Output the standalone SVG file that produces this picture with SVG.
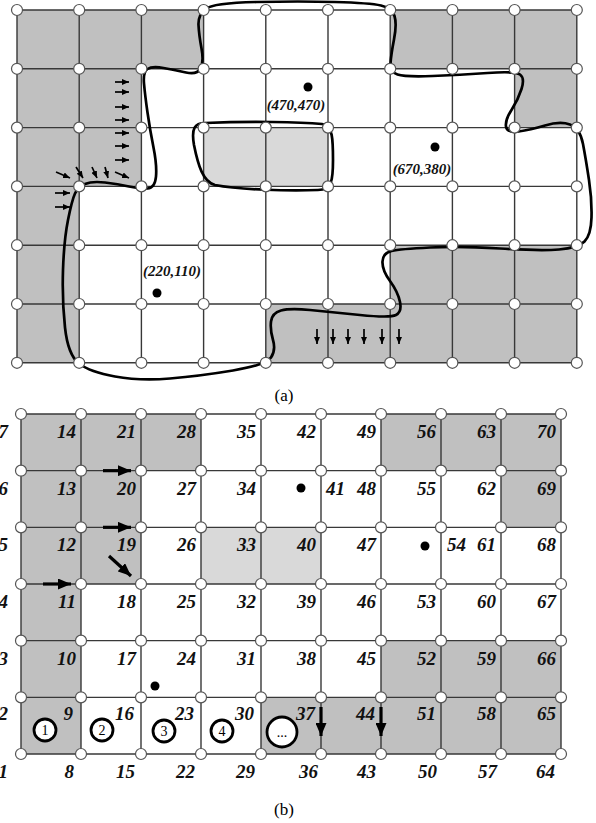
<svg xmlns="http://www.w3.org/2000/svg" xmlns:xlink="http://www.w3.org/1999/xlink" width="596" height="823" viewBox="0 0 596 823">
<style>
.g{fill:none;stroke:#383838;stroke-width:1.4}
.nd{fill:#fff;stroke:#555;stroke-width:1.2}
.dk{fill:#c0c0c0}
.lt{fill:#d9d9d9}
.lb{font-family:"Liberation Serif",serif;font-weight:bold;font-style:italic;font-size:19px;text-anchor:end;fill:#111}
.co{font-family:"Liberation Serif",serif;font-weight:bold;font-style:italic;font-size:15px;text-anchor:middle;fill:#111}
.cap{font-family:"Liberation Serif",serif;font-size:17px;text-anchor:middle;fill:#000}
.cn{font-family:"Liberation Serif",serif;font-size:14px;text-anchor:middle;fill:#000}
.crv{fill:none;stroke:#000;stroke-width:2.7}
.sa{stroke:#000;stroke-width:1.7;marker-end:url(#ms)}
.ba{stroke:#000;stroke-width:3.2;marker-end:url(#mb)}
.ring{fill:#fff;stroke:#000;stroke-width:2.8}
.dot{fill:#000}
</style>
<defs>
<marker id="ms" markerUnits="userSpaceOnUse" markerWidth="7" markerHeight="6" refX="7" refY="3" orient="auto"><path d="M0 0L7 3L0 6z" fill="#000"/></marker>
<marker id="mb" markerUnits="userSpaceOnUse" markerWidth="13" markerHeight="11" refX="13" refY="5.5" orient="auto"><path d="M0 0L13 5.5L0 11z" fill="#000"/></marker>
</defs>
<rect width="596" height="823" fill="#fff"/>

<!-- ===== (a) ===== -->
<g id="a-cells">
<rect class="dk" x="17" y="10" width="186.6" height="58.8"/>
<rect class="dk" x="390.2" y="10" width="186.6" height="58.8"/>
<rect class="dk" x="17" y="68.8" width="124.4" height="58.8"/>
<rect class="dk" x="514.6" y="68.8" width="62.2" height="58.8"/>
<rect class="dk" x="17" y="127.6" width="124.4" height="58.8"/>
<rect class="lt" x="203.6" y="127.6" width="124.4" height="58.8"/>
<rect class="dk" x="17" y="186.4" width="62.2" height="176.4"/>
<rect class="dk" x="390.2" y="245.2" width="186.6" height="58.8"/>
<rect class="dk" x="265.8" y="304" width="311" height="58.8"/>
</g>
<g id="a-grid">
<path class="g" d="M17 10V362.8M79.2 10V362.8M141.4 10V362.8M203.6 10V362.8M265.8 10V362.8M328 10V362.8M390.2 10V362.8M452.4 10V362.8M514.6 10V362.8M576.8 10V362.8M17 10H576.8M17 68.8H576.8M17 127.6H576.8M17 186.4H576.8M17 245.2H576.8M17 304H576.8M17 362.8H576.8"/>
</g>
<g id="a-curves">
<path class="crv" d="M256.5 2Q300 1 335 2Q370 3 381 5.5Q392 8 394.5 16Q397 24 394 39.5Q391 55 390.5 63.5Q390 72 397.5 74.5Q405 77 432.5 76Q460 75 487.5 73Q515 71 520 74.5Q525 78 521.5 89Q518 100 511.5 110Q505 120 506 126.5Q507 133 518.5 131.5Q530 130 545 125.5Q560 121 570 124.5Q580 128 583 144Q586 160 589 180Q592 200 591.5 217.5Q591 235 584.5 241.5Q578 248 559 249.5Q540 251 500 248.5Q460 246 430 247.5Q400 249 391.5 251Q383 253 382.5 261.5Q382 270 390 281Q398 292 400 302Q402 312 396 315Q390 318 360 315Q330 312 310 310Q290 308 281 310.5Q272 313 271 321.5Q270 330 273 340Q276 350 271 357.5Q266 365 233 370.5Q200 376 170 378.5Q140 381 115 376.5Q90 372 79 363.5Q68 355 65 327.5Q62 300 63 270Q64 240 68 220Q72 200 75 193.5Q78 187 85 184Q92 181 105 182.5Q118 184 129 186.5Q140 189 147.5 188.5Q155 188 156 176.5Q157 165 153.5 147.5Q150 130 147.5 112.5Q145 95 144 83.5Q143 72 147.5 69Q152 66 163.5 68Q175 70 186 72.5Q197 75 200.5 68.5Q204 62 201.5 48.5Q199 35 198.5 25Q198 15 205.5 9Q213 3 256.5 2Z"/>
<path class="crv" d="M205 123C250 121 300 122 322 124C333 125 333 140 333 160C333 180 332 190 318 190C290 191 240 190 215 185C203 182 198 165 194 145C191 128 195 123 205 123Z"/>
</g>
<g id="a-nodes">
<circle class="nd" cx="17" cy="10" r="5.5"/><circle class="nd" cx="79.2" cy="10" r="5.5"/><circle class="nd" cx="141.4" cy="10" r="5.5"/><circle class="nd" cx="203.6" cy="10" r="5.5"/><circle class="nd" cx="265.8" cy="10" r="5.5"/><circle class="nd" cx="328" cy="10" r="5.5"/><circle class="nd" cx="390.2" cy="10" r="5.5"/><circle class="nd" cx="452.4" cy="10" r="5.5"/><circle class="nd" cx="514.6" cy="10" r="5.5"/><circle class="nd" cx="576.8" cy="10" r="5.5"/>
<circle class="nd" cx="17" cy="68.8" r="5.5"/><circle class="nd" cx="79.2" cy="68.8" r="5.5"/><circle class="nd" cx="141.4" cy="68.8" r="5.5"/><circle class="nd" cx="203.6" cy="68.8" r="5.5"/><circle class="nd" cx="265.8" cy="68.8" r="5.5"/><circle class="nd" cx="328" cy="68.8" r="5.5"/><circle class="nd" cx="390.2" cy="68.8" r="5.5"/><circle class="nd" cx="452.4" cy="68.8" r="5.5"/><circle class="nd" cx="514.6" cy="68.8" r="5.5"/><circle class="nd" cx="576.8" cy="68.8" r="5.5"/>
<circle class="nd" cx="17" cy="127.6" r="5.5"/><circle class="nd" cx="79.2" cy="127.6" r="5.5"/><circle class="nd" cx="141.4" cy="127.6" r="5.5"/><circle class="nd" cx="203.6" cy="127.6" r="5.5"/><circle class="nd" cx="265.8" cy="127.6" r="5.5"/><circle class="nd" cx="328" cy="127.6" r="5.5"/><circle class="nd" cx="390.2" cy="127.6" r="5.5"/><circle class="nd" cx="452.4" cy="127.6" r="5.5"/><circle class="nd" cx="514.6" cy="127.6" r="5.5"/><circle class="nd" cx="576.8" cy="127.6" r="5.5"/>
<circle class="nd" cx="17" cy="186.4" r="5.5"/><circle class="nd" cx="79.2" cy="186.4" r="5.5"/><circle class="nd" cx="141.4" cy="186.4" r="5.5"/><circle class="nd" cx="203.6" cy="186.4" r="5.5"/><circle class="nd" cx="265.8" cy="186.4" r="5.5"/><circle class="nd" cx="328" cy="186.4" r="5.5"/><circle class="nd" cx="390.2" cy="186.4" r="5.5"/><circle class="nd" cx="452.4" cy="186.4" r="5.5"/><circle class="nd" cx="514.6" cy="186.4" r="5.5"/><circle class="nd" cx="576.8" cy="186.4" r="5.5"/>
<circle class="nd" cx="17" cy="245.2" r="5.5"/><circle class="nd" cx="79.2" cy="245.2" r="5.5"/><circle class="nd" cx="141.4" cy="245.2" r="5.5"/><circle class="nd" cx="203.6" cy="245.2" r="5.5"/><circle class="nd" cx="265.8" cy="245.2" r="5.5"/><circle class="nd" cx="328" cy="245.2" r="5.5"/><circle class="nd" cx="390.2" cy="245.2" r="5.5"/><circle class="nd" cx="452.4" cy="245.2" r="5.5"/><circle class="nd" cx="514.6" cy="245.2" r="5.5"/><circle class="nd" cx="576.8" cy="245.2" r="5.5"/>
<circle class="nd" cx="17" cy="304" r="5.5"/><circle class="nd" cx="79.2" cy="304" r="5.5"/><circle class="nd" cx="141.4" cy="304" r="5.5"/><circle class="nd" cx="203.6" cy="304" r="5.5"/><circle class="nd" cx="265.8" cy="304" r="5.5"/><circle class="nd" cx="328" cy="304" r="5.5"/><circle class="nd" cx="390.2" cy="304" r="5.5"/><circle class="nd" cx="452.4" cy="304" r="5.5"/><circle class="nd" cx="514.6" cy="304" r="5.5"/><circle class="nd" cx="576.8" cy="304" r="5.5"/>
<circle class="nd" cx="17" cy="362.8" r="5.5"/><circle class="nd" cx="79.2" cy="362.8" r="5.5"/><circle class="nd" cx="141.4" cy="362.8" r="5.5"/><circle class="nd" cx="203.6" cy="362.8" r="5.5"/><circle class="nd" cx="265.8" cy="362.8" r="5.5"/><circle class="nd" cx="328" cy="362.8" r="5.5"/><circle class="nd" cx="390.2" cy="362.8" r="5.5"/><circle class="nd" cx="452.4" cy="362.8" r="5.5"/><circle class="nd" cx="514.6" cy="362.8" r="5.5"/><circle class="nd" cx="576.8" cy="362.8" r="5.5"/>
</g>
<g id="a-arrows">
<line class="sa" x1="115" y1="82" x2="129" y2="82"/>
<line class="sa" x1="115" y1="92" x2="129" y2="92"/>
<line class="sa" x1="115" y1="107" x2="129" y2="107"/>
<line class="sa" x1="115" y1="120" x2="129" y2="120"/>
<line class="sa" x1="115" y1="133" x2="129" y2="133"/>
<line class="sa" x1="115" y1="146" x2="129" y2="146"/>
<line class="sa" x1="115" y1="160" x2="129" y2="160"/>
<line class="sa" x1="56" y1="172" x2="70" y2="178"/>
<line class="sa" x1="76" y1="167" x2="83" y2="178"/>
<line class="sa" x1="92" y1="167" x2="97" y2="178"/>
<line class="sa" x1="105" y1="167" x2="108" y2="178"/>
<line class="sa" x1="115" y1="172" x2="129" y2="178"/>
<line class="sa" x1="55" y1="193" x2="70" y2="193"/>
<line class="sa" x1="55" y1="207" x2="70" y2="207"/>
<line class="sa" x1="317" y1="329" x2="317" y2="344"/>
<line class="sa" x1="333" y1="329" x2="333" y2="344"/>
<line class="sa" x1="348" y1="329" x2="348" y2="344"/>
<line class="sa" x1="364" y1="329" x2="364" y2="344"/>
<line class="sa" x1="382" y1="329" x2="382" y2="344"/>
<line class="sa" x1="399" y1="329" x2="399" y2="344"/>
</g>
<g id="a-points">
<circle class="dot" cx="308" cy="87" r="4.5"/>
<text class="co" x="296" y="110">(470,470)</text>
<circle class="dot" cx="435" cy="147" r="4.5"/>
<text class="co" x="422" y="174">(670,380)</text>
<circle class="dot" cx="157" cy="293" r="4.5"/>
<text class="co" x="172" y="276">(220,110)</text>
</g>
<text class="cap" x="284" y="401">(a)</text>

<!-- ===== (b) ===== -->
<g id="b-cells">
<rect class="dk" x="21" y="414" width="180" height="56.67"/>
<rect class="dk" x="381" y="414" width="180" height="56.67"/>
<rect class="dk" x="21" y="470.67" width="120" height="56.67"/>
<rect class="dk" x="501" y="470.67" width="60" height="56.67"/>
<rect class="dk" x="21" y="527.33" width="120" height="56.67"/>
<rect class="lt" x="201" y="527.33" width="120" height="56.67"/>
<rect class="dk" x="21" y="584" width="60" height="170"/>
<rect class="dk" x="381" y="640.67" width="180" height="56.67"/>
<rect class="dk" x="261" y="697.33" width="300" height="56.67"/>
</g>
<g id="b-grid">
<path class="g" d="M21 414V754M81 414V754M141 414V754M201 414V754M261 414V754M321 414V754M381 414V754M441 414V754M501 414V754M561 414V754M21 414H561M21 470.67H561M21 527.33H561M21 584H561M21 640.67H561M21 697.33H561M21 754H561"/>
</g>
<g id="b-arrows">
<line class="ba" x1="103" y1="470.67" x2="131" y2="470.67"/>
<line class="ba" x1="103" y1="527.33" x2="131" y2="527.33"/>
<line class="ba" x1="43" y1="584" x2="71" y2="584"/>
<line class="ba" x1="109" y1="556" x2="131" y2="576"/>
<line class="ba" x1="321" y1="707" x2="321" y2="736"/>
<line class="ba" x1="381" y1="707" x2="381" y2="736"/>
</g>
<g id="b-nodes">
<circle class="nd" cx="21" cy="414" r="5.5"/><circle class="nd" cx="81" cy="414" r="5.5"/><circle class="nd" cx="141" cy="414" r="5.5"/><circle class="nd" cx="201" cy="414" r="5.5"/><circle class="nd" cx="261" cy="414" r="5.5"/><circle class="nd" cx="321" cy="414" r="5.5"/><circle class="nd" cx="381" cy="414" r="5.5"/><circle class="nd" cx="441" cy="414" r="5.5"/><circle class="nd" cx="501" cy="414" r="5.5"/><circle class="nd" cx="561" cy="414" r="5.5"/>
<circle class="nd" cx="21" cy="470.67" r="5.5"/><circle class="nd" cx="81" cy="470.67" r="5.5"/><circle class="nd" cx="141" cy="470.67" r="5.5"/><circle class="nd" cx="201" cy="470.67" r="5.5"/><circle class="nd" cx="261" cy="470.67" r="5.5"/><circle class="nd" cx="321" cy="470.67" r="5.5"/><circle class="nd" cx="381" cy="470.67" r="5.5"/><circle class="nd" cx="441" cy="470.67" r="5.5"/><circle class="nd" cx="501" cy="470.67" r="5.5"/><circle class="nd" cx="561" cy="470.67" r="5.5"/>
<circle class="nd" cx="21" cy="527.33" r="5.5"/><circle class="nd" cx="81" cy="527.33" r="5.5"/><circle class="nd" cx="141" cy="527.33" r="5.5"/><circle class="nd" cx="201" cy="527.33" r="5.5"/><circle class="nd" cx="261" cy="527.33" r="5.5"/><circle class="nd" cx="321" cy="527.33" r="5.5"/><circle class="nd" cx="381" cy="527.33" r="5.5"/><circle class="nd" cx="441" cy="527.33" r="5.5"/><circle class="nd" cx="501" cy="527.33" r="5.5"/><circle class="nd" cx="561" cy="527.33" r="5.5"/>
<circle class="nd" cx="21" cy="584" r="5.5"/><circle class="nd" cx="81" cy="584" r="5.5"/><circle class="nd" cx="141" cy="584" r="5.5"/><circle class="nd" cx="201" cy="584" r="5.5"/><circle class="nd" cx="261" cy="584" r="5.5"/><circle class="nd" cx="321" cy="584" r="5.5"/><circle class="nd" cx="381" cy="584" r="5.5"/><circle class="nd" cx="441" cy="584" r="5.5"/><circle class="nd" cx="501" cy="584" r="5.5"/><circle class="nd" cx="561" cy="584" r="5.5"/>
<circle class="nd" cx="21" cy="640.67" r="5.5"/><circle class="nd" cx="81" cy="640.67" r="5.5"/><circle class="nd" cx="141" cy="640.67" r="5.5"/><circle class="nd" cx="201" cy="640.67" r="5.5"/><circle class="nd" cx="261" cy="640.67" r="5.5"/><circle class="nd" cx="321" cy="640.67" r="5.5"/><circle class="nd" cx="381" cy="640.67" r="5.5"/><circle class="nd" cx="441" cy="640.67" r="5.5"/><circle class="nd" cx="501" cy="640.67" r="5.5"/><circle class="nd" cx="561" cy="640.67" r="5.5"/>
<circle class="nd" cx="21" cy="697.33" r="5.5"/><circle class="nd" cx="81" cy="697.33" r="5.5"/><circle class="nd" cx="141" cy="697.33" r="5.5"/><circle class="nd" cx="201" cy="697.33" r="5.5"/><circle class="nd" cx="261" cy="697.33" r="5.5"/><circle class="nd" cx="321" cy="697.33" r="5.5"/><circle class="nd" cx="381" cy="697.33" r="5.5"/><circle class="nd" cx="441" cy="697.33" r="5.5"/><circle class="nd" cx="501" cy="697.33" r="5.5"/><circle class="nd" cx="561" cy="697.33" r="5.5"/>
<circle class="nd" cx="21" cy="754" r="5.5"/><circle class="nd" cx="81" cy="754" r="5.5"/><circle class="nd" cx="141" cy="754" r="5.5"/><circle class="nd" cx="201" cy="754" r="5.5"/><circle class="nd" cx="261" cy="754" r="5.5"/><circle class="nd" cx="321" cy="754" r="5.5"/><circle class="nd" cx="381" cy="754" r="5.5"/><circle class="nd" cx="441" cy="754" r="5.5"/><circle class="nd" cx="501" cy="754" r="5.5"/><circle class="nd" cx="561" cy="754" r="5.5"/>
</g>
<g id="b-labels">
<text class="lb" x="8" y="438">7</text><text class="lb" x="76" y="438">14</text><text class="lb" x="136" y="438">21</text><text class="lb" x="196" y="438">28</text><text class="lb" x="256" y="438">35</text><text class="lb" x="316" y="438">42</text><text class="lb" x="376" y="438">49</text><text class="lb" x="436" y="438">56</text><text class="lb" x="496" y="438">63</text><text class="lb" x="556" y="438">70</text>
<text class="lb" x="8" y="494.7">6</text><text class="lb" x="76" y="494.7">13</text><text class="lb" x="136" y="494.7">20</text><text class="lb" x="196" y="494.7">27</text><text class="lb" x="256" y="494.7">34</text><text class="lb" x="326" y="494.7" style="text-anchor:start">41</text><text class="lb" x="376" y="494.7">48</text><text class="lb" x="436" y="494.7">55</text><text class="lb" x="496" y="494.7">62</text><text class="lb" x="556" y="494.7">69</text>
<text class="lb" x="8" y="551.3">5</text><text class="lb" x="76" y="551.3">12</text><text class="lb" x="136" y="551.3">19</text><text class="lb" x="196" y="551.3">26</text><text class="lb" x="256" y="551.3">33</text><text class="lb" x="316" y="551.3">40</text><text class="lb" x="376" y="551.3">47</text><text class="lb" x="447" y="551.3" style="text-anchor:start">54</text><text class="lb" x="496" y="551.3">61</text><text class="lb" x="556" y="551.3">68</text>
<text class="lb" x="8" y="608">4</text><text class="lb" x="76" y="608">11</text><text class="lb" x="136" y="608">18</text><text class="lb" x="196" y="608">25</text><text class="lb" x="256" y="608">32</text><text class="lb" x="316" y="608">39</text><text class="lb" x="376" y="608">46</text><text class="lb" x="436" y="608">53</text><text class="lb" x="496" y="608">60</text><text class="lb" x="556" y="608">67</text>
<text class="lb" x="8" y="664.7">3</text><text class="lb" x="76" y="664.7">10</text><text class="lb" x="136" y="664.7">17</text><text class="lb" x="196" y="664.7">24</text><text class="lb" x="256" y="664.7">31</text><text class="lb" x="316" y="664.7">38</text><text class="lb" x="376" y="664.7">45</text><text class="lb" x="436" y="664.7">52</text><text class="lb" x="496" y="664.7">59</text><text class="lb" x="556" y="664.7">66</text>
<text class="lb" x="8" y="720">2</text><text class="lb" x="73" y="720">9</text><text class="lb" x="134" y="720">16</text><text class="lb" x="194" y="720">23</text><text class="lb" x="254" y="720">30</text><text class="lb" x="315" y="720">37</text><text class="lb" x="375" y="720">44</text><text class="lb" x="436" y="720">51</text><text class="lb" x="496" y="720">58</text><text class="lb" x="556" y="720">65</text>
<text class="lb" x="8" y="778">1</text><text class="lb" x="74" y="778">8</text><text class="lb" x="135" y="778">15</text><text class="lb" x="195" y="778">22</text><text class="lb" x="255" y="778">29</text><text class="lb" x="318" y="778">36</text><text class="lb" x="376" y="778">43</text><text class="lb" x="437" y="778">50</text><text class="lb" x="497" y="778">57</text><text class="lb" x="555" y="778">64</text>
</g>
<g id="b-points">
<circle class="dot" cx="301" cy="488" r="4.5"/>
<circle class="dot" cx="425" cy="546" r="4.5"/>
<circle class="dot" cx="155" cy="686" r="4.5"/>
</g>
<g id="b-rings">
<g id="r1"><circle class="ring" cx="45" cy="730" r="11"/><text class="cn" x="45" y="735">1</text></g>
<g id="r2"><circle class="ring" cx="102" cy="730" r="11"/><text class="cn" x="102" y="735">2</text></g>
<g id="r3"><circle class="ring" cx="164" cy="731" r="11"/><text class="cn" x="164" y="736">3</text></g>
<g id="r4"><circle class="ring" cx="222" cy="731" r="11"/><text class="cn" x="222" y="736">4</text></g>
<g id="r5"><circle class="ring" cx="282" cy="732" r="15"/><text class="cn" x="282" y="737">...</text></g>
</g>
<text class="cap" x="284" y="815">(b)</text>
</svg>
